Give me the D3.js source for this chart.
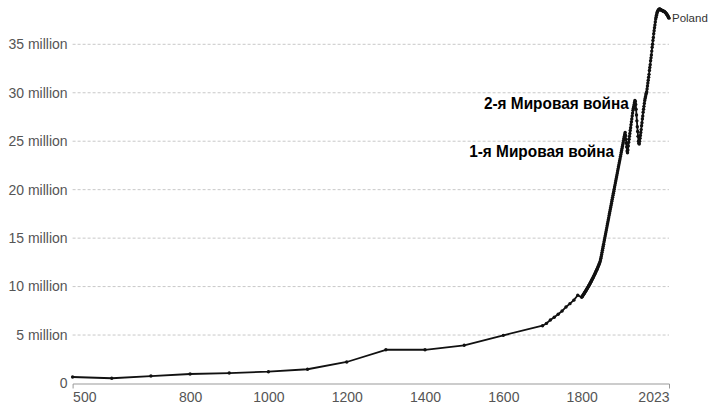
<!DOCTYPE html>
<html>
<head>
<meta charset="utf-8">
<script src="https://cdn.jsdelivr.net/npm/d3@7"></script>
<style>
  body { margin: 0; background: #fff; }
  svg { display: block; font-family: "Liberation Sans", Arial, sans-serif; }
</style>
</head>
<body>
<script>
// historical estimates before 1800 (millions)
var histYears = [500, 600, 700, 800, 900, 1000, 1100, 1200, 1300, 1400, 1500, 1600, 1700,
                 1710, 1720, 1730, 1740, 1750, 1760, 1770, 1780, 1790];
var histPop = [0.67, 0.54, 0.77, 0.98, 1.08, 1.22, 1.47, 2.22, 3.48, 3.48, 3.94, 4.97, 5.96,
               6.2, 6.55, 6.83, 7.14, 7.48, 7.9, 8.24, 8.6, 9.1];

// yearly values from 1800 to 2023 (millions)
var firstYearlyYear = 1800;
var yearlyPop = [
  8.90, 8.96, 9.02, 9.08, 9.15, 9.21, 9.27, 9.34, 9.40, 9.47,   // 1800
  9.53, 9.60, 9.67, 9.73, 9.80, 9.87, 9.94, 10.01, 10.08, 10.15, // 1810
  10.22, 10.30, 10.37, 10.45, 10.52, 10.60, 10.68, 10.76, 10.84, 10.92, // 1820
  11.00, 11.08, 11.16, 11.25, 11.33, 11.42, 11.51, 11.60, 11.69, 11.78, // 1830
  11.87, 11.96, 12.06, 12.15, 12.25, 12.35, 12.45, 12.58, 12.74, 12.92, // 1840
  13.10, 13.32, 13.53, 13.75, 13.96, 14.17, 14.38, 14.60, 14.80, 15.01, // 1850
  15.22, 15.42, 15.64, 15.85, 16.06, 16.27, 16.48, 16.69, 16.90, 17.11, // 1860
  17.33, 17.54, 17.74, 17.95, 18.16, 18.37, 18.58, 18.80, 19.00, 19.21, // 1870
  19.42, 19.63, 19.84, 20.05, 20.27, 20.47, 20.68, 20.89, 21.10, 21.31, // 1880
  21.52, 21.73, 21.95, 22.15, 22.36, 22.57, 22.78, 22.99, 23.20, 23.41, // 1890
  23.62, 23.83, 24.04, 24.25, 24.46, 24.67, 24.88, 25.09, 25.30, 25.51, // 1900
  25.72, 25.90, 25.60, 25.20, 24.80, 24.40, 24.00, 23.80, 24.10, 24.50, // 1910
  24.90, 25.20, 25.50, 25.80, 26.10, 26.40, 26.70, 27.00, 27.30, 27.60, // 1920
  27.90, 28.20, 28.40, 28.60, 28.80, 29.00, 29.20, 29.10, 28.80, 28.30, // 1930
  27.70, 27.10, 26.50, 26.00, 25.50, 25.00, 24.80, 24.70, 25.00, 25.30, // 1940
  25.60, 25.90, 26.20, 26.60, 26.90, 27.30, 27.60, 28.00, 28.30, 28.60, // 1950
  28.90, 29.20, 29.40, 29.60, 29.80, 29.95, 30.10, 30.40, 30.70, 31.00, // 1960
  31.30, 31.60, 31.90, 32.30, 32.60, 32.90, 33.30, 33.60, 33.90, 34.30, // 1970
  34.70, 35.00, 35.40, 35.70, 36.10, 36.40, 36.70, 37.00, 37.30, 37.60, // 1980
  37.80, 38.00, 38.15, 38.30, 38.40, 38.50, 38.55, 38.60, 38.62, 38.64, // 1990
  38.63, 38.60, 38.58, 38.55, 38.52, 38.50, 38.47, 38.45, 38.43, 38.42, // 2000
  38.40, 38.38, 38.35, 38.30, 38.27, 38.22, 38.17, 38.12, 38.06, 38.00, // 2010
  37.93, 37.85, 37.77, 37.70                                            // 2020
];

var xTicks = [500, 800, 1000, 1200, 1400, 1600, 1800, 2023];
var yTicks = [0, 5, 10, 15, 20, 25, 30, 35];
var seriesName = "Poland";

// war labels, anchored to the peak they describe
var warLabels = ["2-я Мировая война", "1-я Мировая война"];
var warYears = [1936, 1911];
var warValues = [29.2, 25.9];
// pixel offsets of each label's right end / baseline from its peak
var warOffsets = [{ dx: -6, dy: 8 }, { dx: -11, dy: 24.5 }];

var width = 710, height = 404;
var margin = { top: 44.3, right: 41, bottom: 20.5, left: 72.6 };

var data = histYears.map(function(y, i) { return { year: y, pop: histPop[i] }; })
  .concat(yearlyPop.map(function(p, i) { return { year: firstYearlyYear + i, pop: p }; }));

var x = d3.scaleLinear()
    .domain([500, 2023])
    .range([margin.left, width - margin.right]);

var y = d3.scaleLinear()
    .domain([0, 35])
    .range([height - margin.bottom, margin.top]);

var svg = d3.select("body").append("svg")
    .attr("width", width)
    .attr("height", height);

// horizontal grid
svg.append("g")
  .selectAll("line")
  .data(yTicks.filter(function(d) { return d > 0; }))
  .enter().append("line")
    .attr("x1", x.range()[0])
    .attr("x2", x.range()[1])
    .attr("y1", function(d) { return y(d); })
    .attr("y2", function(d) { return y(d); })
    .attr("stroke", "#c8c8c8")
    .attr("stroke-dasharray", "3,2");

// y labels
svg.append("g")
  .selectAll("text")
  .data(yTicks)
  .enter().append("text")
    .attr("x", x.range()[0] - 5)
    .attr("y", function(d) { return y(d); })
    .attr("dy", "0.35em")
    .attr("text-anchor", "end")
    .attr("font-size", 14)
    .attr("fill", "#555")
    .text(function(d) { return d === 0 ? "0" : d + " million"; });

// x axis, ticks only at the ends
var xAxis = svg.append("g")
    .attr("transform", "translate(0," + y(0) + ")")
    .call(d3.axisBottom(x)
      .tickValues(xTicks)
      .tickFormat(d3.format("d"))
      .tickSizeInner(0)
      .tickSizeOuter(5)
      .tickPadding(9));

xAxis.select(".domain").attr("stroke", "#999");
xAxis.selectAll("text")
    .attr("font-size", 14)
    .attr("font-family", "Liberation Sans, Arial, sans-serif")
    .attr("fill", "#555")
    .attr("text-anchor", function(d, i) {
      return i === 0 ? "start" : (i === xTicks.length - 1 ? "end" : "middle");
    });

// the line
var line = d3.line()
    .x(function(d) { return x(d.year); })
    .y(function(d) { return y(d.pop); });

svg.append("path")
    .datum(data)
    .attr("fill", "none")
    .attr("stroke", "#111")
    .attr("stroke-width", 1.8)
    .attr("stroke-linejoin", "round")
    .attr("d", line);

svg.append("g")
  .selectAll("circle")
  .data(data)
  .enter().append("circle")
    .attr("cx", function(d) { return x(d.year); })
    .attr("cy", function(d) { return y(d.pop); })
    .attr("r", 1.7)
    .attr("fill", "#111");

// series label
var last = data[data.length - 1];
svg.append("text")
    .attr("x", x(last.year) + 3)
    .attr("y", y(last.pop))
    .attr("dy", "0.35em")
    .attr("font-size", 11.5)
    .attr("fill", "#333")
    .text(seriesName);

// war annotations
svg.append("g")
  .selectAll("text")
  .data(warLabels)
  .enter().append("text")
    .attr("x", function(d, i) { return x(warYears[i]) + warOffsets[i].dx; })
    .attr("y", function(d, i) { return y(warValues[i]) + warOffsets[i].dy; })
    .attr("text-anchor", "end")
    .attr("font-family", "Liberation Sans Narrow, Arial Narrow, sans-serif")
    .attr("font-weight", "bold")
    .attr("font-size", 16)
    .attr("fill", "#000")
    .attr("textLength", 145)
    .attr("lengthAdjust", "spacingAndGlyphs")
    .text(function(d) { return d; });
</script>
</body>
</html>
